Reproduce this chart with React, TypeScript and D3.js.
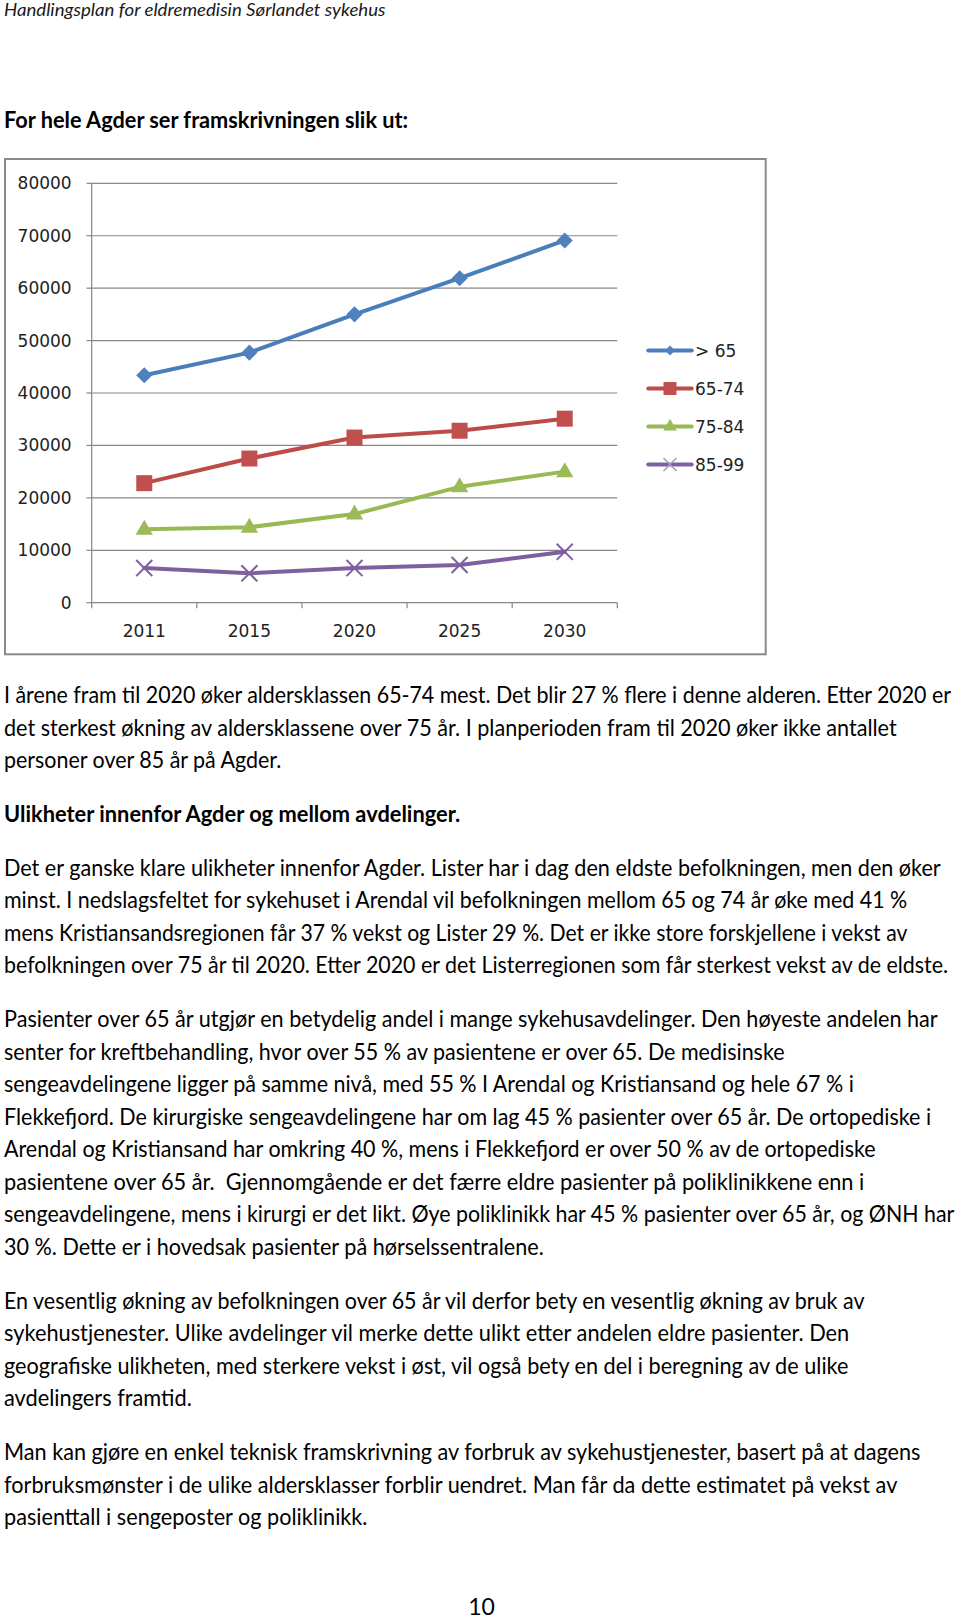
import React from 'react';
import * as d3 from 'd3';

// ---------- chart data ----------
const YEARS = ['2011', '2015', '2020', '2025', '2030'];
const SERIES_NAMES = ['> 65', '65-74', '75-84', '85-99'];
const OVER_65 = [43400, 47700, 55000, 61900, 69100];
const AGE_65_74 = [22800, 27500, 31500, 32800, 35100];
const AGE_75_84 = [14000, 14400, 16900, 22100, 25000];
const AGE_85_99 = [6600, 5600, 6600, 7200, 9700];
const Y_TICKS = [0, 10000, 20000, 30000, 40000, 50000, 60000, 70000, 80000];

// ---------- page text ----------
const HEADER = 'Handlingsplan for eldremedisin Sørlandet sykehus';
const HEADING = 'For hele Agder ser framskrivningen slik ut:';
const PARA_1 = [
  'I årene fram til 2020 øker aldersklassen 65-74 mest. Det blir 27 % flere i denne alderen. Etter 2020 er',
  'det sterkest økning av aldersklassene over 75 år. I planperioden fram til 2020 øker ikke antallet',
  'personer over 85 år på Agder.',
];
const PARA_2 = ['Ulikheter innenfor Agder og mellom avdelinger.'];
const PARA_3 = [
  'Det er ganske klare ulikheter innenfor Agder. Lister har i dag den eldste befolkningen, men den øker',
  'minst. I nedslagsfeltet for sykehuset i Arendal vil befolkningen mellom 65 og 74 år øke med 41 %',
  'mens Kristiansandsregionen får 37 % vekst og Lister 29 %. Det er ikke store forskjellene i vekst av',
  'befolkningen over 75 år til 2020. Etter 2020 er det Listerregionen som får sterkest vekst av de eldste.',
];
const PARA_4 = [
  'Pasienter over 65 år utgjør en betydelig andel i mange sykehusavdelinger. Den høyeste andelen har',
  'senter for kreftbehandling, hvor over 55 % av pasientene er over 65. De medisinske',
  'sengeavdelingene ligger på samme nivå, med 55 % I Arendal og Kristiansand og hele 67 % i',
  'Flekkefjord. De kirurgiske sengeavdelingene har om lag 45 % pasienter over 65 år. De ortopediske i',
  'Arendal og Kristiansand har omkring 40 %, mens i Flekkefjord er over 50 % av de ortopediske',
  'pasientene over 65 år.  Gjennomgående er det færre eldre pasienter på poliklinikkene enn i',
  'sengeavdelingene, mens i kirurgi er det likt. Øye poliklinikk har 45 % pasienter over 65 år, og ØNH har',
  '30 %. Dette er i hovedsak pasienter på hørselssentralene.',
];
const PARA_5 = [
  'En vesentlig økning av befolkningen over 65 år vil derfor bety en vesentlig økning av bruk av',
  'sykehustjenester. Ulike avdelinger vil merke dette ulikt etter andelen eldre pasienter. Den',
  'geografiske ulikheten, med sterkere vekst i øst, vil også bety en del i beregning av de ulike',
  'avdelingers framtid.',
];
const PARA_6 = [
  'Man kan gjøre en enkel teknisk framskrivning av forbruk av sykehustjenester, basert på at dagens',
  'forbruksmønster i de ulike aldersklasser forblir uendret. Man får da dette estimatet på vekst av',
  'pasienttall i sengeposter og poliklinikk.',
];
const PAGE_NUMBER = '10';

// measured right edges of each printed line (layout only)
const LINE_ENDS = [
  [953, 899, 283.5],
  [462.5],
  [944.5, 910, 910, 952],
  [940, 788.5, 855.5, 933, 878, 866, 957, 545],
  [869.5, 851, 851, 192],
  [921.7, 900, 368],
];

const BODY_FAMILY = 'Lato';
const BODY_FONT = 'Lato, "Open Sans", sans-serif';
const CHART_FONT = '"DejaVu Sans", sans-serif';
const GRID = '#868686';

let measureCtx: CanvasRenderingContext2D | null = null;
function measure(text: string, style: string, weight: string, size: number): number {
  if (!measureCtx) measureCtx = document.createElement('canvas').getContext('2d');
  if (!measureCtx) return 1;
  measureCtx.font = `${style} ${weight} ${size}px ${BODY_FAMILY}`;
  return measureCtx.measureText(text).width || 1;
}

function FitText(props: {
  text: string;
  x: number;
  y: number;
  width: number;
  size: number;
  weight?: string;
  italic?: boolean;
  fill?: string;
}) {
  const { text, x, y, width, size, weight = 'normal', italic = false, fill = '#000' } = props;
  const natural = measure(text, italic ? 'italic' : 'normal', weight, size);
  const sx = width / natural;
  return (
    <text
      transform={`translate(${x},${y}) scale(${sx},1)`}
      fontFamily={BODY_FONT}
      fontSize={size}
      fontWeight={weight}
      fontStyle={italic ? 'italic' : 'normal'}
      fill={fill}
      style={{ whiteSpace: 'pre' }}
    >
      {text}
    </text>
  );
}

export default function App() {
  const x = d3.scaleBand<string>().domain(YEARS).range([91.7, 617.3]);
  const y = d3.scaleLinear().domain([0, 80000]).range([602.7, 183.3]);
  const cx = (i: number) => (x(YEARS[i]) as number) + x.bandwidth() / 2;

  const series = [
    { name: SERIES_NAMES[0], values: OVER_65, line: '#4A7EBB', fill: '#4F81BD', sym: d3.symbolDiamond2, size: 165, lsize: 64, stroke: false },
    { name: SERIES_NAMES[1], values: AGE_65_74, line: '#BE4B48', fill: '#C0504D', sym: d3.symbolSquare, size: 256, lsize: 169, stroke: false },
    { name: SERIES_NAMES[2], values: AGE_75_84, line: '#98B954', fill: '#9BBB59', sym: d3.symbolTriangle, size: 130, lsize: 80, stroke: false },
    { name: SERIES_NAMES[3], values: AGE_85_99, line: '#7D60A0', fill: '#7D60A0', sym: d3.symbolTimes, size: 170, lsize: 112, stroke: true },
  ];

  const lineGen = d3
    .line<number>()
    .x((_, i) => cx(i))
    .y((d) => y(d));

  const paragraphs = [PARA_1, PARA_2, PARA_3, PARA_4, PARA_5, PARA_6];
  const bodyLines: { text: string; y: number; bold: boolean; end: number }[] = [];
  let yPos = 703;
  paragraphs.forEach((p, pi) => {
    p.forEach((t, li) => {
      bodyLines.push({ text: t, y: yPos, bold: pi === 1, end: LINE_ENDS[pi][li] });
      yPos += 32.55;
    });
    yPos += 21.2;
  });

  const xTickPositions = d3.range(YEARS.length + 1).map((i) =>
    i < YEARS.length ? (x(YEARS[i]) as number) : (x(YEARS[YEARS.length - 1]) as number) + x.bandwidth()
  );

  const legendX0 = 648.3;
  const legendX1 = 691.7;
  const legendY = (i: number) => 350.5 + i * 38;

  return (
    <svg
      width={960}
      height={1620}
      style={{ position: 'absolute', left: 0, top: 0, background: '#fff' }}
    >
      <rect x={0} y={0} width={960} height={1620} fill="#fff" />
      {/* page header */}
      <FitText text={HEADER} x={4} y={16.3} width={382} size={16.5} italic fill="#1a1a1a" />
      <FitText text={HEADING} x={4} y={128.3} width={406.5} size={23} weight="bold" />

      {/* chart frame */}
      <rect x={5} y={159} width={760.7} height={495.3} fill="#fff" stroke="#8a8a8a" strokeWidth={2} />

      {/* gridlines and y labels */}
      {Y_TICKS.map((t) => (
        <g key={t}>
          {t > 0 && (
            <line x1={91.7} x2={617.3} y1={y(t)} y2={y(t)} stroke={GRID} strokeWidth={1.2} />
          )}
          <line x1={86.5} x2={91.7} y1={y(t)} y2={y(t)} stroke={GRID} strokeWidth={1.2} />
          <text
            x={71.7}
            y={y(t) + 6}
            textAnchor="end"
            fontFamily={CHART_FONT}
            fontSize={17}
            fill="#222"
          >
            {t}
          </text>
        </g>
      ))}
      {/* axes */}
      <line x1={91.7} x2={91.7} y1={y(80000)} y2={y(0)} stroke={GRID} strokeWidth={1.2} />
      <line x1={91.7} x2={617.3} y1={y(0)} y2={y(0)} stroke={GRID} strokeWidth={1.2} />
      {xTickPositions.map((p, i) => (
        <line key={i} x1={p} x2={p} y1={y(0)} y2={y(0) + 5.5} stroke={GRID} strokeWidth={1.2} />
      ))}
      {YEARS.map((yr, i) => (
        <text
          key={yr}
          x={cx(i)}
          y={636.7}
          textAnchor="middle"
          fontFamily={CHART_FONT}
          fontSize={17}
          fill="#222"
        >
          {yr}
        </text>
      ))}

      {/* series */}
      {series.map((s) => (
        <g key={s.name}>
          <path d={lineGen(s.values) as string} fill="none" stroke={s.line} strokeWidth={4} strokeLinejoin="round" strokeLinecap="round" />
          {s.values.map((v, i) => (
            <path
              key={i}
              transform={`translate(${cx(i)},${y(v) + (s.sym === d3.symbolTriangle ? 0.5 : 0)})`}
              d={d3.symbol().type(s.sym).size(s.size)() as string}
              fill={s.stroke ? 'none' : s.fill}
              stroke={s.stroke ? s.fill : 'none'}
              strokeWidth={s.stroke ? 2 : 0}
            />
          ))}
        </g>
      ))}

      {/* legend */}
      {series.map((s, i) => (
        <g key={'lg' + s.name}>
          <line x1={legendX0} x2={legendX1} y1={legendY(i)} y2={legendY(i)} stroke={s.line} strokeWidth={4} strokeLinecap="round" />
          <path
            transform={`translate(${(legendX0 + legendX1) / 2},${legendY(i)})`}
            d={d3.symbol().type(s.sym).size(s.lsize)() as string}
            fill={s.stroke ? 'none' : s.fill}
            stroke={s.stroke ? '#A898C0' : 'none'}
            strokeWidth={s.stroke ? 1.5 : 0}
          />
          <text x={695} y={legendY(i) + 6} fontFamily={CHART_FONT} fontSize={17} fill="#222">
            {s.name}
          </text>
        </g>
      ))}

      {/* body text */}
      {bodyLines.map((l, i) => (
        <FitText
          key={i}
          text={l.text}
          x={4}
          y={l.y}
          width={l.end - 4}
          size={23}
          weight={l.bold ? 'bold' : 'normal'}
        />
      ))}

      <text
        x={481.6}
        y={1614.5}
        textAnchor="middle"
        fontFamily={BODY_FONT}
        fontSize={23}
        fill="#000"
      >
        {PAGE_NUMBER}
      </text>
    </svg>
  );
}
